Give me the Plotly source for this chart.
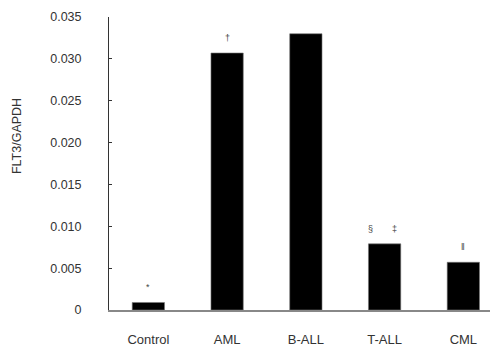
import plotly.graph_objects as go

categories = ["Control", "AML", "B-ALL", "T-ALL", "CML"]
values = [0.0009, 0.0307, 0.0330, 0.0079, 0.0057]
y_tickvals = [0, 0.005, 0.010, 0.015, 0.020, 0.025, 0.030, 0.035]
y_ticktext = ["0", "0.005", "0.010", "0.015", "0.020", "0.025", "0.030", "0.035"]
marks = [("Control", "*", 0), ("AML", "†", 0), ("T-ALL", "§", -14), ("T-ALL", "‡", 10), ("CML", "‖", 0)]

FONT = "Liberation Sans"

fig = go.Figure()
fig.add_trace(go.Bar(x=categories, y=values, width=0.41,
                     marker=dict(color="black", line=dict(color="#777", width=0.6))))

val = dict(zip(categories, values))
for cat, sym, dx in marks:
    fig.add_annotation(x=cat, y=val[cat], text=sym, showarrow=False,
                       yanchor="bottom", yshift=8, xshift=dx,
                       font=dict(size=9, color="#444", family=FONT))

fig.add_annotation(xref="paper", yref="paper", x=-92.5/389, y=0.592, text="FLT3/GAPDH",
                   textangle=-90, showarrow=False, xanchor="center", yanchor="middle",
                   font=dict(size=12.5, color="#333", family=FONT))

fig.update_layout(
    width=490, height=340,
    margin=dict(l=101, r=0, t=9, b=38, autoexpand=False),
    plot_bgcolor="white", paper_bgcolor="white",
    showlegend=False,
    font=dict(family=FONT, size=12, color="#333"),
    xaxis=dict(range=[-0.5, 4.44], showline=True, linecolor="#888", linewidth=1.5,
               ticks="", showgrid=False, zeroline=False, ticklabelstandoff=17,
               automargin=False, tickfont=dict(size=13, color="#333", family=FONT)),
    yaxis=dict(range=[0, 0.035], tickvals=y_tickvals, ticktext=y_ticktext,
               showline=True, linecolor="#333", linewidth=1, ticks="inside", ticklen=3,
               tickcolor="#333", showgrid=False, zeroline=False, ticklabelstandoff=24,
               automargin=False, tickfont=dict(size=12.5, color="#333", family=FONT)),
    bargap=0.5,
)

fig.write_html("out.html")
